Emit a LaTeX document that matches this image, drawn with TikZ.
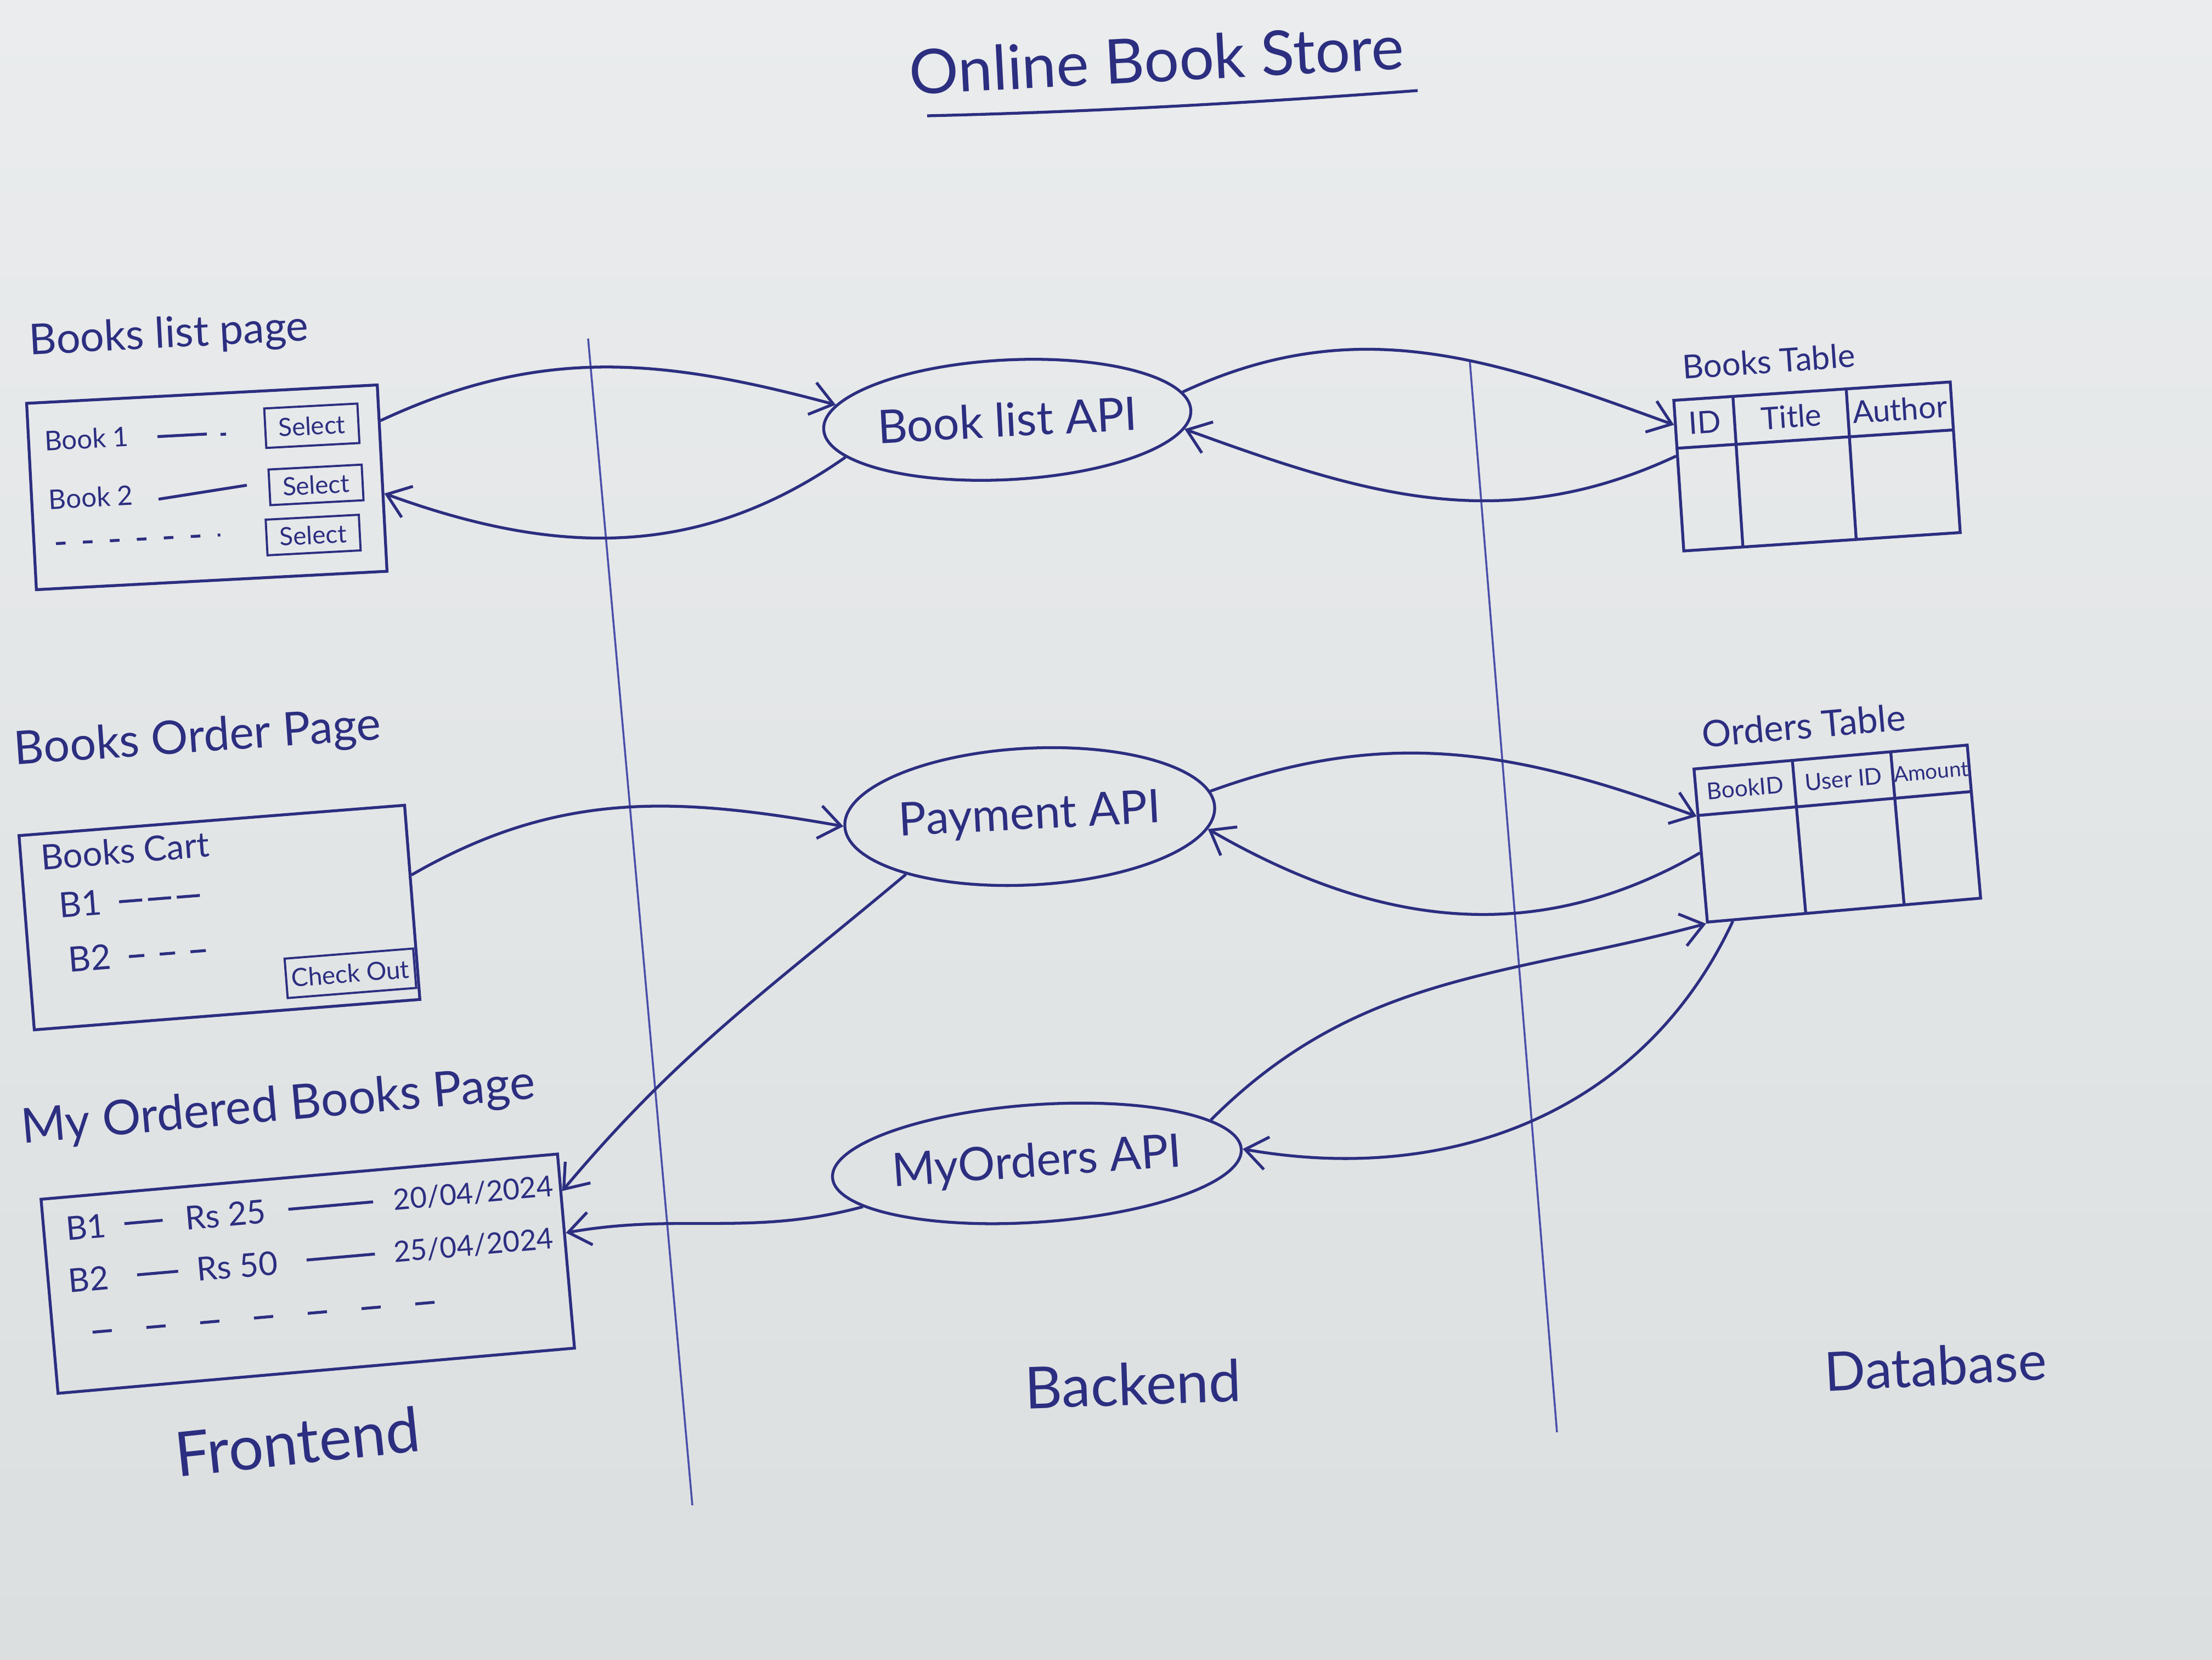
\documentclass[tikz,border=0pt]{standalone}
\usepackage{fontspec}
\setmainfont{Lato}
\usepackage{tikz}
\usetikzlibrary{arrows.meta, positioning, shapes.geometric}

\definecolor{papertop}{RGB}{234,236,237}
\definecolor{paperbot}{RGB}{219,223,224}
\definecolor{ink}{RGB}{44,46,128}
\definecolor{pen}{RGB}{74,78,170}
\newcommand{\fsz}[1]{\fontsize{#1}{#1}\selectfont}

\begin{document}
\begin{tikzpicture}[
    line/.style={draw=ink, line width=1.5pt},
    txt/.style={text=ink, inner sep=1pt},
    box/.style={line, rectangle, inner sep=0pt},
    btn/.style={line, line width=1.1pt, rectangle, inner sep=0pt, text=ink, font=\fsz{13}},
    api/.style={line, ellipse, inner sep=0pt, text=ink, font=\fsz{24}},
    flow/.style={line, -{Straight Barb[length=4mm, width=6mm]}},
    divider/.style={draw=pen, line width=1pt},
  ]
  \useasboundingbox (0,0) rectangle (40.32,-30.24);
  \shade[top color=papertop, bottom color=paperbot] (0,0) rectangle (40.32,-30.24);

  % Titre
  \node[txt, font=\fsz{32}, rotate=3] (title) at (21.08,-1.08) {Online Book Store};
  \draw[line] (16.9,-2.11) .. controls (19.5,-2.05) and (22.5,-1.9) .. (25.84,-1.65);

  % Separations
  \draw[divider] (10.72,-6.17) -- (12.62,-27.43);
  \draw[divider] (26.79,-6.56) -- (28.38,-26.10);

  % Books list page
  \node[txt, font=\fsz{22}, rotate=3] (listlbl) at (3.08,-6.12) {Books list page};
  \begin{scope}[shift={(3.77,-8.88)}, rotate=3, transform shape]
    \node[box, minimum width=6.4cm, minimum height=3.4cm] (listbox) at (0,0) {};
    \node[txt, anchor=west, font=\fsz{14}] (book1) at (-2.95,1.0) {Book 1};
    \draw[line] (-0.85,0.97) -- (0.05,0.97) (0.3,0.95) -- (0.4,0.95);
    \node[btn, minimum width=1.7cm, minimum height=0.72cm] (sel1) at (1.97,1.02) {Select};
    \node[txt, anchor=west, font=\fsz{14}] (book2) at (-2.93,-0.07) {Book 2};
    \draw[line] (-0.89,-0.17) -- (0.73,0.0);
    \node[btn, minimum width=1.7cm, minimum height=0.65cm] (sel2) at (1.99,-0.06) {Select};
    \draw[line, dash pattern=on 5pt off 9pt] (-2.8,-0.88) -- (0.2,-0.88);
    \node[btn, minimum width=1.7cm, minimum height=0.65cm] (sel3) at (1.89,-0.97) {Select};
  \end{scope}

  % Books Order Page
  \node[txt, font=\fsz{24}, rotate=4] (orderlbl) at (3.6,-13.47) {Books Order Page};
  \begin{scope}[shift={(4.00,-16.72)}, rotate=4.5, transform shape]
    \node[box, minimum width=7.05cm, minimum height=3.55cm] (orderbox) at (0,0) {};
    \node[txt, anchor=west, font=\fsz{18}] (cart) at (-3.2,1.35) {Books Cart};
    \node[txt, anchor=west, font=\fsz{18}] (b1) at (-2.94,0.45) {B1};
    \draw[line, dash pattern=on 12pt off 3pt] (-1.8,0.43) -- (-0.3,0.43);
    \node[txt, anchor=west, font=\fsz{18}] (b2) at (-2.85,-0.55) {B2};
    \draw[line, dash pattern=on 8pt off 8pt] (-1.7,-0.58) -- (-0.25,-0.58);
    \node[btn, minimum width=2.35cm, minimum height=0.72cm] (checkout) at (2.3,-1.2) {Check Out};
  \end{scope}

  % My Ordered Books Page
  \node[txt, font=\fsz{25}, rotate=5] (mylbl) at (5.07,-20.18) {My Ordered Books Page};
  \begin{scope}[shift={(5.61,-23.21)}, rotate=5, transform shape]
    \node[box, minimum width=9.45cm, minimum height=3.55cm] (mybox) at (0,0) {};
    \node[txt, anchor=west, font=\fsz{17}] (r1b) at (-4.36,1.2) {B1};
    \draw[line] (-3.25,1.2) -- (-2.55,1.2);
    \node[txt, anchor=west, font=\fsz{17}] (r1p) at (-2.18,1.2) {Rs 25};
    \draw[line] (-0.25,1.2) -- (1.3,1.2);
    \node[txt, anchor=west, font=\fsz{15}] (r1d) at (1.63,1.2) {20/04/2024};
    \node[txt, anchor=west, font=\fsz{17}] (r2b) at (-4.4,0.25) {B2};
    \draw[line] (-3.1,0.25) -- (-2.35,0.25);
    \node[txt, anchor=west, font=\fsz{17}] (r2p) at (-2.05,0.25) {Rs 50};
    \draw[line] (0.0,0.25) -- (1.25,0.25);
    \node[txt, anchor=west, font=\fsz{15}] (r2d) at (1.55,0.25) {25/04/2024};
    \draw[line, dash pattern=on 10pt off 18pt] (-4.0,-0.72) -- (2.6,-0.72);
  \end{scope}

  % APIs
  \node[api, minimum width=6.63cm, minimum height=2.18cm, rotate=3] (blapi) at (18.36,-7.65) {Book list API};
  \node[api, minimum width=6.27cm, minimum height=2.49cm, rotate=3] (payapi) at (18.77,-14.88) {Payment API};
  \node[api, minimum width=5.81cm, minimum height=2.14cm, rotate=4] (myapi) at (18.9,-21.2) {MyOrders API};

  % Books Table
  \node[txt, font=\fsz{17}, rotate=4] (btlbl) at (32.24,-6.58) {Books Table};
  \begin{scope}[shift={(33.12,-8.5)}, rotate=3.8, transform shape]
    \node[box, minimum width=5.05cm, minimum height=2.75cm] (bookstable) at (0,0) {};
    \draw[line] (-2.525,0.5) -- (2.525,0.5);
    \draw[line] (-1.445,1.375) -- (-1.445,-1.375);
    \draw[line] (0.625,1.375) -- (0.625,-1.375);
    \node[txt, font=\fsz{16}] (hid) at (-1.985,0.94) {ID};
    \node[txt, font=\fsz{16}] (htitle) at (-0.41,0.94) {Title};
    \node[txt, font=\fsz{16}] (hauthor) at (1.575,0.94) {Author};
  \end{scope}

  % Orders Table
  \node[txt, font=\fsz{19}, rotate=5] (otlbl) at (32.88,-13.22) {Orders Table};
  \begin{scope}[shift={(33.49,-15.19)}, rotate=5, transform shape]
    \node[box, minimum width=5.0cm, minimum height=2.8cm] (orderstable) at (0,0) {};
    \draw[line] (-2.5,0.55) -- (2.5,0.55);
    \draw[line] (-0.7,1.4) -- (-0.7,-1.4);
    \draw[line] (1.1,1.4) -- (1.1,-1.4);
    \node[txt, font=\fsz{12}] (hbook) at (-1.6,0.975) {BookID};
    \node[txt, font=\fsz{12}] (huser) at (0.2,0.975) {User ID};
    \node[txt, font=\fsz{11}] (hamount) at (1.8,0.975) {Amount};
  \end{scope}

  % Appels
  \draw[flow] (listbox.18) to[out=25, in=165] (blapi.172);
  \draw[flow] (blapi.190) to[out=215, in=-20] (listbox.-5);
  \draw[flow] (blapi.6) to[out=25, in=160] (bookstable.160);
  \draw[flow] (bookstable.172) to[out=205, in=-20] (blapi.-6);
  \draw[flow] (orderbox.8) to[out=30, in=170] (payapi.180);
  \draw[flow] (payapi.202) to[out=220, in=50] (mybox.13);
  \draw[flow] (payapi.5) to[out=20, in=160] (orderstable.168);
  \draw[flow] (orderstable.183) to[out=210, in=-30] (payapi.-7);
  \draw[flow] (myapi.10) to[out=45, in=195] (orderstable.south west);
  \draw[flow] (orderstable.215) to[out=245, in=-10] (myapi.0);
  \draw[flow] (myapi.190) to[out=195, in=10] (mybox.4);

  % Couches
  \node[txt, font=\fsz{32}, rotate=6] (frontlbl) at (5.42,-26.27) {Frontend};
  \node[txt, font=\fsz{30}, rotate=2] (backlbl) at (20.65,-25.22) {Backend};
  \node[txt, font=\fsz{28}, rotate=3] (dblbl) at (35.28,-24.89) {Database};
\end{tikzpicture}
\end{document}
